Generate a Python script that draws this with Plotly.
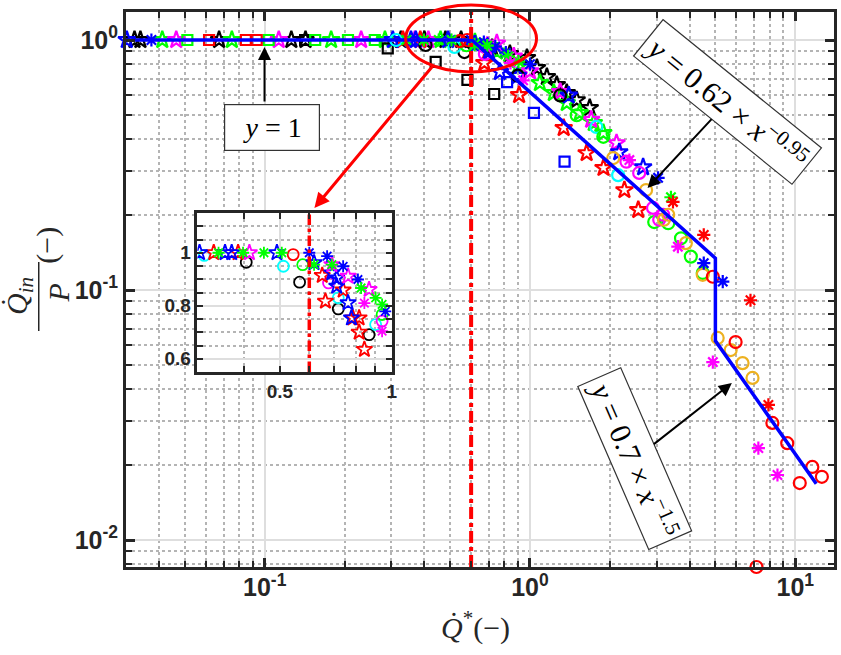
import plotly.graph_objects as go

# ---------------- data ----------------
fit_x = [0.03, 0.604, 5.0, 5.0, 12.0]
fit_y = [1.0, 1.0, 0.134, 0.0626, 0.0168]
q_crit = 0.6

# main plot series
bk_star_x = [0.0323, 0.034, 0.0673, 0.126, 0.1425, 0.326, 0.40, 0.48, 0.55, 0.72, 0.84, 0.974, 1.062, 1.158, 1.262, 1.376, 1.50, 1.68]
bk_star_y = [1, 1, 1, 1, 1, 1, 1, 1, 1, 0.93, 0.88, 0.848, 0.773, 0.711, 0.661, 0.614, 0.575, 0.535]
gr_star_x = [0.0411, 0.0752, 0.178, 0.284, 0.46, 0.62, 0.75, 0.90, 1.09, 1.23, 1.376, 1.54, 1.74, 1.89]
gr_star_y = [1, 1, 1, 1, 1, 0.98, 0.90, 0.78, 0.673, 0.614, 0.56, 0.511, 0.466, 0.425]
mg_star_x = [0.0464, 0.113, 0.231, 0.368, 0.414, 0.69, 0.75, 0.869, 1.0, 1.3, 1.7, 2.12]
mg_star_y = [1, 1, 1, 1, 1, 0.95, 0.97, 0.86, 0.75, 0.62, 0.48, 0.387]
rd_star_x = [0.332, 0.386, 0.673, 0.91, 1.34, 1.635, 1.893, 2.27, 2.56]
rd_star_y = [1, 1, 0.81, 0.603, 0.445, 0.353, 0.308, 0.251, 0.209]
bl_star_x = [0.0302, 0.304, 0.356, 0.371, 0.491, 0.62, 0.70, 0.77, 0.90, 1.40, 2.17, 2.67]
bl_star_y = [1, 1, 1, 1, 1, 0.96, 0.90, 0.745, 0.72, 0.60, 0.356, 0.31]
bk_sq_x = [0.142, 0.291, 0.441, 0.581, 0.733]
bk_sq_y = [1, 0.926, 0.817, 0.692, 0.608]
bl_sq_x = [0.82, 1.035, 1.35]
bl_sq_y = [0.679, 0.511, 0.326]
gr_sq_x = [0.0511, 0.1035, 0.155, 0.206, 0.26]
gr_sq_y = [1, 1, 1, 1, 1]
rd_sq_x = [0.0617, 0.0849, 0.0933]
rd_sq_y = [1, 1, 1]
bk_circ_x = [0.404, 0.566, 0.90, 1.30]
bk_circ_y = [0.955, 0.895, 0.72, 0.60]
cy_circ_x = [0.313, 0.519, 1.78, 2.15]
cy_circ_y = [1.0, 0.938, 0.449, 0.288]
gr_circ_x = [0.576, 1.50, 1.89, 2.94, 3.32, 3.71, 4.04, 4.48]
gr_circ_y = [0.953, 0.50, 0.41, 0.187, 0.185, 0.161, 0.136, 0.117]
mg_circ_x = [0.676, 2.31, 2.58, 2.91, 3.07, 3.18]
mg_circ_y = [0.88, 0.326, 0.294, 0.213, 0.191, 0.20]
or_circ_x = [2.06, 2.74, 3.20, 3.32, 3.87, 4.48, 5.10, 5.71, 6.33, 6.90]
or_circ_y = [0.337, 0.251, 0.191, 0.20, 0.154, 0.115, 0.0643, 0.0575, 0.051, 0.0445]
rd_circ_x = [0.543, 0.58, 4.89, 5.96, 8.2, 9.33, 10.4, 11.6, 12.6, 7.14]
rd_circ_y = [0.99, 1.0, 0.113, 0.0619, 0.0294, 0.0244, 0.0169, 0.0196, 0.0179, 0.0078]
bl_ast_x = [0.0374, 0.501, 0.60, 0.67, 0.74, 0.811, 1.0, 3.04, 4.52, 5.33]
bl_ast_y = [1, 1, 1, 0.98, 0.94, 0.89, 0.80, 0.281, 0.128, 0.108]
gr_ast_x = [0.342, 0.398, 0.453, 0.506, 0.618, 0.69, 0.827, 0.905, 3.40]
gr_ast_y = [1, 1, 1, 1, 0.96, 0.95, 0.86, 0.82, 0.235]
mg_ast_x = [0.844, 0.942, 2.37, 3.61, 4.89, 7.26, 8.57]
mg_ast_y = [0.81, 0.69, 0.331, 0.149, 0.0515, 0.0233, 0.0182]
rd_ast_x = [3.46, 4.52, 6.78, 7.92]
rd_ast_y = [0.225, 0.166, 0.091, 0.0347]

# inset series
in_bk_circ_x = [0.406, 0.565, 0.718, 0.869]
in_bk_circ_y = [0.964, 0.889, 0.788, 0.691]
in_cy_circ_x = [0.313, 0.511, 0.718, 0.905]
in_cy_circ_y = [0.99, 0.949, 0.83, 0.729]
in_rd_circ_x = [0.543]
in_rd_circ_y = [0.993]
in_gr_circ_x = [0.576, 0.942]
in_gr_circ_y = [0.955, 0.767]
in_mg_circ_x = [0.676, 0.942]
in_mg_circ_y = [0.886, 0.742]
in_rd_star_x = [0.332, 0.386, 0.65, 0.663, 0.74, 0.786, 0.817, 0.817, 0.844]
in_rd_star_y = [1.0, 1.0, 0.914, 0.817, 0.859, 0.754, 0.754, 0.70, 0.635]
in_bl_star_x = [0.304, 0.356, 0.371, 0.491, 0.618, 0.69, 0.711, 0.711, 0.763, 0.779]
in_bl_star_y = [1.0, 1.0, 1.0, 1.0, 0.962, 0.924, 0.905, 0.874, 0.811, 0.754]
in_mg_star_x = [0.414, 0.69, 0.763, 0.869]
in_mg_star_y = [1.0, 0.955, 0.911, 0.861]
in_bl_ast_x = [0.60, 0.67, 0.74, 0.811, 0.961]
in_bl_ast_y = [1.0, 0.987, 0.949, 0.899, 0.779]
in_gr_ast_x = [0.342, 0.398, 0.453, 0.506, 0.618, 0.69, 0.827, 0.905, 0.942]
in_gr_ast_y = [1.0, 1.0, 1.0, 1.0, 0.955, 0.955, 0.867, 0.83, 0.805]
in_mg_ast_x = [0.844, 0.942]
in_mg_ast_y = [0.81, 0.704]

x_ticks = [0.1, 1, 10]
x_ticktext = ["10<sup>-1</sup>", "10<sup>0</sup>", "10<sup>1</sup>"]
y_ticks = [0.01, 0.1, 1]
y_ticktext = ["10<sup>-2</sup>", "10<sup>-1</sup>", "10<sup>0</sup>"]
in_x_ticks = [0.5, 1]
in_x_ticktext = ["0.5", "1"]
in_y_ticks = [0.6, 0.8, 1.0]
in_y_ticktext = ["0.6", "0.8", "1"]

# ---------------- styling ----------------
BLACK, RED, GREEN, BLUE = "#000000", "#ff0000", "#00ff00", "#0000ff"
MAGENTA, CYAN, ORANGE = "#ff00ff", "#00ffff", "#EDB120"
SYM = {"star": ("star-open", 13), "circ": ("circle-open", 12),
       "sq": ("square-open", 10), "ast": ("asterisk-open", 11)}

main_series = [
    (bk_star_x, bk_star_y, BLACK, "star"), (gr_star_x, gr_star_y, GREEN, "star"),
    (mg_star_x, mg_star_y, MAGENTA, "star"), (rd_star_x, rd_star_y, RED, "star"),
    (bl_star_x, bl_star_y, BLUE, "star"), (bk_sq_x, bk_sq_y, BLACK, "sq"),
    (bl_sq_x, bl_sq_y, BLUE, "sq"), (gr_sq_x, gr_sq_y, GREEN, "sq"),
    (rd_sq_x, rd_sq_y, RED, "sq"), (bk_circ_x, bk_circ_y, BLACK, "circ"),
    (cy_circ_x, cy_circ_y, CYAN, "circ"), (gr_circ_x, gr_circ_y, GREEN, "circ"),
    (mg_circ_x, mg_circ_y, MAGENTA, "circ"), (or_circ_x, or_circ_y, ORANGE, "circ"),
    (rd_circ_x, rd_circ_y, RED, "circ"), (bl_ast_x, bl_ast_y, BLUE, "ast"),
    (gr_ast_x, gr_ast_y, GREEN, "ast"), (mg_ast_x, mg_ast_y, MAGENTA, "ast"),
    (rd_ast_x, rd_ast_y, RED, "ast"),
]
inset_series = [
    (in_bk_circ_x, in_bk_circ_y, BLACK, "circ"), (in_cy_circ_x, in_cy_circ_y, CYAN, "circ"),
    (in_rd_circ_x, in_rd_circ_y, RED, "circ"), (in_gr_circ_x, in_gr_circ_y, GREEN, "circ"),
    (in_mg_circ_x, in_mg_circ_y, MAGENTA, "circ"), (in_rd_star_x, in_rd_star_y, RED, "star"),
    (in_bl_star_x, in_bl_star_y, BLUE, "star"), (in_mg_star_x, in_mg_star_y, MAGENTA, "star"),
    (in_bl_ast_x, in_bl_ast_y, BLUE, "ast"), (in_gr_ast_x, in_gr_ast_y, GREEN, "ast"),
    (in_mg_ast_x, in_mg_ast_y, MAGENTA, "ast"),
]

W, H = 841, 655
L, R, T, B = 126, 1, 12, 88
PW, PH = W - L - R, H - T - B


def PX(px):
    return (px - L) / PW


def PY(py):
    return (H - B - py) / PH


fig = go.Figure()
for xs, ys, col, kind in main_series:
    sym, size = SYM[kind]
    fig.add_trace(go.Scatter(x=xs, y=ys, mode="markers", cliponaxis=False,
                             marker=dict(symbol=sym, size=size, color=col, line=dict(color=col, width=2.2)),
                             xaxis="x", yaxis="y", showlegend=False))
fig.add_trace(go.Scatter(x=fit_x, y=fit_y, mode="lines", cliponaxis=False,
                         line=dict(color=BLUE, width=3.5), xaxis="x", yaxis="y", showlegend=False))
fig.add_trace(go.Scatter(x=[q_crit, q_crit], y=[0.0078, 1.3], mode="lines",
                         line=dict(color=RED, width=4, dash="dashdot"), xaxis="x", yaxis="y", showlegend=False))

for xs, ys, col, kind in inset_series:
    sym, size = SYM[kind]
    fig.add_trace(go.Scatter(x=xs, y=ys, mode="markers", cliponaxis=True,
                             marker=dict(symbol=sym, size=size - 1, color=col, line=dict(color=col, width=1.8)),
                             xaxis="x2", yaxis="y2", showlegend=False))
fig.add_trace(go.Scatter(x=[q_crit, q_crit], y=[0.55, 1.15], mode="lines",
                         line=dict(color=RED, width=3.5, dash="dashdot"), xaxis="x2", yaxis="y2", showlegend=False))

axis_common = dict(showline=True, linecolor="#262626", linewidth=3, mirror="ticks",
                   ticks="inside", ticklen=9, tickwidth=3, tickcolor="#262626",
                   showgrid=True, gridcolor="#dedede", gridwidth=2, zeroline=False,
                   tickfont=dict(family="Liberation Sans, Arial", size=25, color="#262626", weight="bold"))
minor_common = dict(ticks="inside", ticklen=6, tickwidth=2, tickcolor="#262626",
                    showgrid=True, gridcolor="#b4b4b4", gridwidth=2, griddash="dot")

x_minor = [0.04, 0.05, 0.06, 0.07, 0.08, 0.09, 0.2, 0.3, 0.4, 0.5, 0.6, 0.7, 0.8, 0.9,
           2, 3, 4, 5, 6, 7, 8, 9]
y_minor = [0.008, 0.009, 0.02, 0.03, 0.04, 0.05, 0.06, 0.07, 0.08, 0.09,
           0.2, 0.3, 0.4, 0.5, 0.6, 0.7, 0.8, 0.9]

fig.update_layout(
    width=W, height=H, margin=dict(l=L, r=R, t=T, b=B),
    paper_bgcolor="white", plot_bgcolor="white",
    xaxis=dict(type="log", range=[-1.5229, 1.1461], tickvals=x_ticks, ticktext=x_ticktext,
               ticklabelstandoff=-4,
               minor=dict(tickvals=x_minor, **minor_common), domain=[0, 1], **axis_common),
    yaxis=dict(type="log", range=[-2.108, 0.112], tickvals=y_ticks, ticktext=y_ticktext,
               minor=dict(tickvals=y_minor, **minor_common), domain=[0, 1], **axis_common),
)
in_axis = dict(axis_common)
in_axis.update(linewidth=2.5, ticklen=6, tickwidth=2,
               tickfont=dict(family="Liberation Sans, Arial", size=19, color="#262626", weight="bold"))
fig.update_layout(
    xaxis2=dict(type="log", range=[-0.5229, 0.0], tickvals=in_x_ticks, ticktext=in_x_ticktext,
                domain=[PX(198), PX(394)], anchor="y2",
                minor=dict(tickvals=[0.4, 0.6, 0.7, 0.8, 0.9], **minor_common), **in_axis),
    yaxis2=dict(range=[0.55, 1.15], tickvals=in_y_ticks, ticktext=in_y_ticktext,
                domain=[PY(372), PY(213)], anchor="x2",
                minor=dict(tickvals=[0.65, 0.7, 0.75, 0.85, 0.9, 0.95, 1.05, 1.1], **minor_common), **in_axis),
)

shapes = [
    # white background of inset (drawn in the inset subplot layer)
    dict(type="rect", xref="x2", yref="y2", x0=0.001, x1=1000, y0=-10, y1=10,
         fillcolor="white", line=dict(width=0), layer="below"),
    # red ellipse around the knee
    dict(type="circle", xref="paper", yref="paper", x0=PX(408), x1=PX(540), y0=PY(72), y1=PY(5),
         line=dict(color=RED, width=3), layer="above"),
    # fraction bar of y-label
    dict(type="line", xref="paper", yref="paper", x0=PX(38), x1=PX(38), y0=PY(262), y1=PY(331),
         line=dict(color="#262626", width=1.5)),
]

SERIF = "Liberation Serif, Times New Roman, serif"
C = dict(xanchor="center", yanchor="middle")
annotations = [
    # y = 1 label
    dict(xref="paper", yref="paper", x=PX(265.7), y=PY(47), ax=0, ay=56, text="",
         showarrow=True, arrowhead=2, arrowsize=1.3, arrowwidth=2, arrowcolor="black"),
    dict(xref="paper", yref="paper", x=PX(273), y=PY(127.5), text="<i>y</i> = 1", showarrow=False,
         font=dict(family=SERIF, size=28, color="black"), bordercolor="#333", borderwidth=1.2,
         bgcolor="white", borderpad=7, width=80, **C),
    # y = 0.62 x^-0.95
    dict(xref="paper", yref="paper", x=PX(652), y=PY(188), ax=80, ay=-86,
         text="<i>y</i> = 0.62 × <i>x</i><sup>−0.95</sup>", textangle=39,
         font=dict(family=SERIF, size=30, color="black"), bordercolor="#333", borderwidth=1.2,
         bgcolor="white", borderpad=4, showarrow=True, arrowhead=2, arrowsize=1.3, arrowwidth=2,
         arrowcolor="black", **C),
    # y = 0.7 x^-1.5
    dict(xref="paper", yref="paper", x=PX(737), y=PY(383), ax=-97, ay=76,
         text="<i>y</i> = 0.7 × <i>x</i><sup>−1.5</sup>", textangle=66.5,
         font=dict(family=SERIF, size=30, color="black"), bordercolor="#333", borderwidth=1.2,
         bgcolor="white", borderpad=4, showarrow=True, arrowhead=2, arrowsize=1.3, arrowwidth=2,
         arrowcolor="black", **C),
    # red arrow from ellipse to inset
    dict(xref="paper", yref="paper", x=PX(316), y=PY(208), ax=120, ay=-144, text="",
         showarrow=True, arrowhead=2, arrowsize=1.0, arrowwidth=3, arrowcolor=RED),
    # axis titles
    dict(xref="paper", yref="paper", x=PX(478), y=PY(625), text="<i>Q̇</i><sup>*</sup>(−)",
         showarrow=False, font=dict(family=SERIF, size=30, color="#262626"), **C),
    dict(xref="paper", yref="paper", x=PX(18), y=PY(296), text="<i>Q̇<sub>in</sub></i>", textangle=-90,
         showarrow=False, font=dict(family=SERIF, size=30, color="#262626"), **C),
    dict(xref="paper", yref="paper", x=PX(58), y=PY(293), text="<i>P</i>", textangle=-90,
         showarrow=False, font=dict(family=SERIF, size=30, color="#262626"), **C),
    dict(xref="paper", yref="paper", x=PX(46), y=PY(245), text="(−)", textangle=-90,
         showarrow=False, font=dict(family=SERIF, size=30, color="#262626"), **C),
]
fig.update_layout(shapes=shapes, annotations=annotations)

fig.write_html("out.html", config={"displayModeBar": False},
               post_script="document.body.style.margin='0px';document.body.style.padding='0px';")
